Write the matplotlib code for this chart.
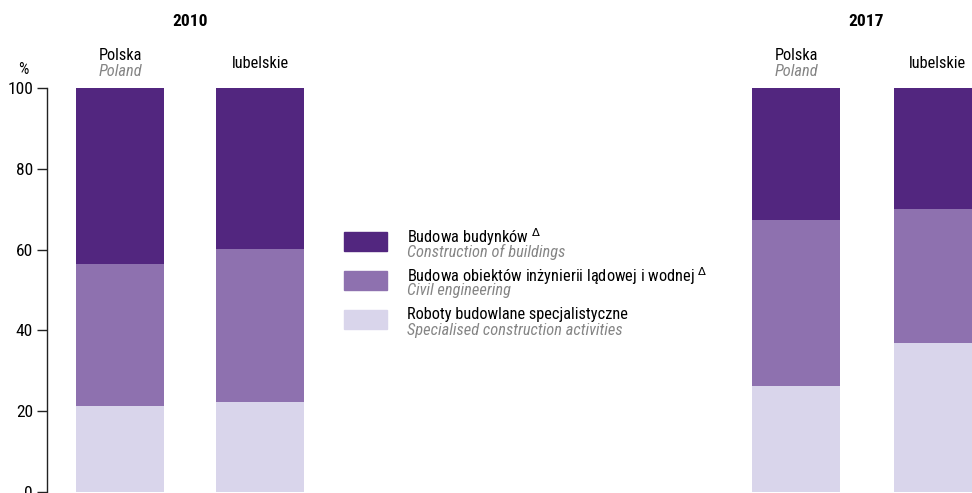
import matplotlib
matplotlib.use("Agg")
import matplotlib.pyplot as plt
from matplotlib.patches import Rectangle

plt.rcParams["font.family"] = ["Roboto Condensed", "DejaVu Sans"]
plt.rcParams["mathtext.fontset"] = "dejavusans"

# data (% share of sections in construction output)
years = ["2010", "2017"]
regions_pl = ["Polska", "lubelskie"]
regions_en = ["Poland", ""]
# order: 2010 Polska, 2010 lubelskie, 2017 Polska, 2017 lubelskie
specialised = [21.3, 22.3, 26.2, 36.9]
civil = [35.1, 37.8, 41.1, 33.1]
buildings = [43.6, 39.9, 32.7, 30.0]

series_pl = ["Budowa budynków", "Budowa obiektów inżynierii lądowej i wodnej",
             "Roboty budowlane specjalistyczne"]
series_en = ["Construction of buildings", "Civil engineering",
             "Specialised construction activities"]
delta_mark = [True, True, False]

C_DARK = "#52267f"
C_MID = "#8e71af"
C_LIGHT = "#d9d5eb"
C_GREY = "#858585"
FS = 11.8

W, H = 972, 493
fig = plt.figure(figsize=(W / 100, H / 100), dpi=100)


def fx(px):
    return px / W


def fy(py):
    return 1 - py / H


ax = fig.add_axes([fx(47), fy(492), 1 - fx(47), (492 - 88) / H])
xpos = [0, 1, 4.83, 5.84]
bw = 0.629
ax.bar(xpos, specialised, bw, color=C_LIGHT)
ax.bar(xpos, civil, bw, bottom=specialised, color=C_MID)
bottoms = [a + b for a, b in zip(specialised, civil)]
ax.bar(xpos, buildings, bw, bottom=bottoms, color=C_DARK)
ax.set_xlim(-0.521, 6.086)
ax.set_ylim(0, 100)
ax.set_yticks([0, 20, 40, 60, 80, 100])
ax.tick_params(axis="y", length=7, width=1, labelsize=12.5, pad=3,
               color="#222222")
ax.set_xticks([])
for s in ("top", "right", "bottom"):
    ax.spines[s].set_visible(False)
ax.spines["left"].set_linewidth(1)
ax.spines["left"].set_color("#222222")

# headings
fig.text(fx(190), fy(22), years[0], ha="center", va="center",
         fontsize=12.5, fontweight="bold")
fig.text(fx(866), fy(22), years[1], ha="center", va="center",
         fontsize=12.5, fontweight="bold")
fig.text(fx(23), fy(70), "%", ha="center", va="center", fontsize=FS)
for cx in (120, 796):
    fig.text(fx(cx), fy(56), regions_pl[0], ha="center", va="center",
             fontsize=FS)
    fig.text(fx(cx), fy(71), regions_en[0], ha="center", va="center",
             fontsize=FS, style="italic", color=C_GREY)
for cx in (260, 937):
    fig.text(fx(cx), fy(64), regions_pl[1], ha="center", va="center",
             fontsize=FS)

# legend
colors = [C_DARK, C_MID, C_LIGHT]
tops = [232, 271, 310]
for col, top, pl, en, dm in zip(colors, tops, series_pl, series_en,
                                delta_mark):
    fig.add_artist(Rectangle((fx(344), fy(top + 19)), fx(43), 19 / H,
                             color=col, transform=fig.transFigure))
    label = pl + (r" $^{\Delta}$" if dm else "")
    fig.text(fx(407), fy(top + 5), label, ha="left", va="center",
             fontsize=FS)
    fig.text(fx(407), fy(top + 20), en, ha="left", va="center",
             fontsize=FS, style="italic", color=C_GREY)

fig.savefig("out.png", dpi=100)
